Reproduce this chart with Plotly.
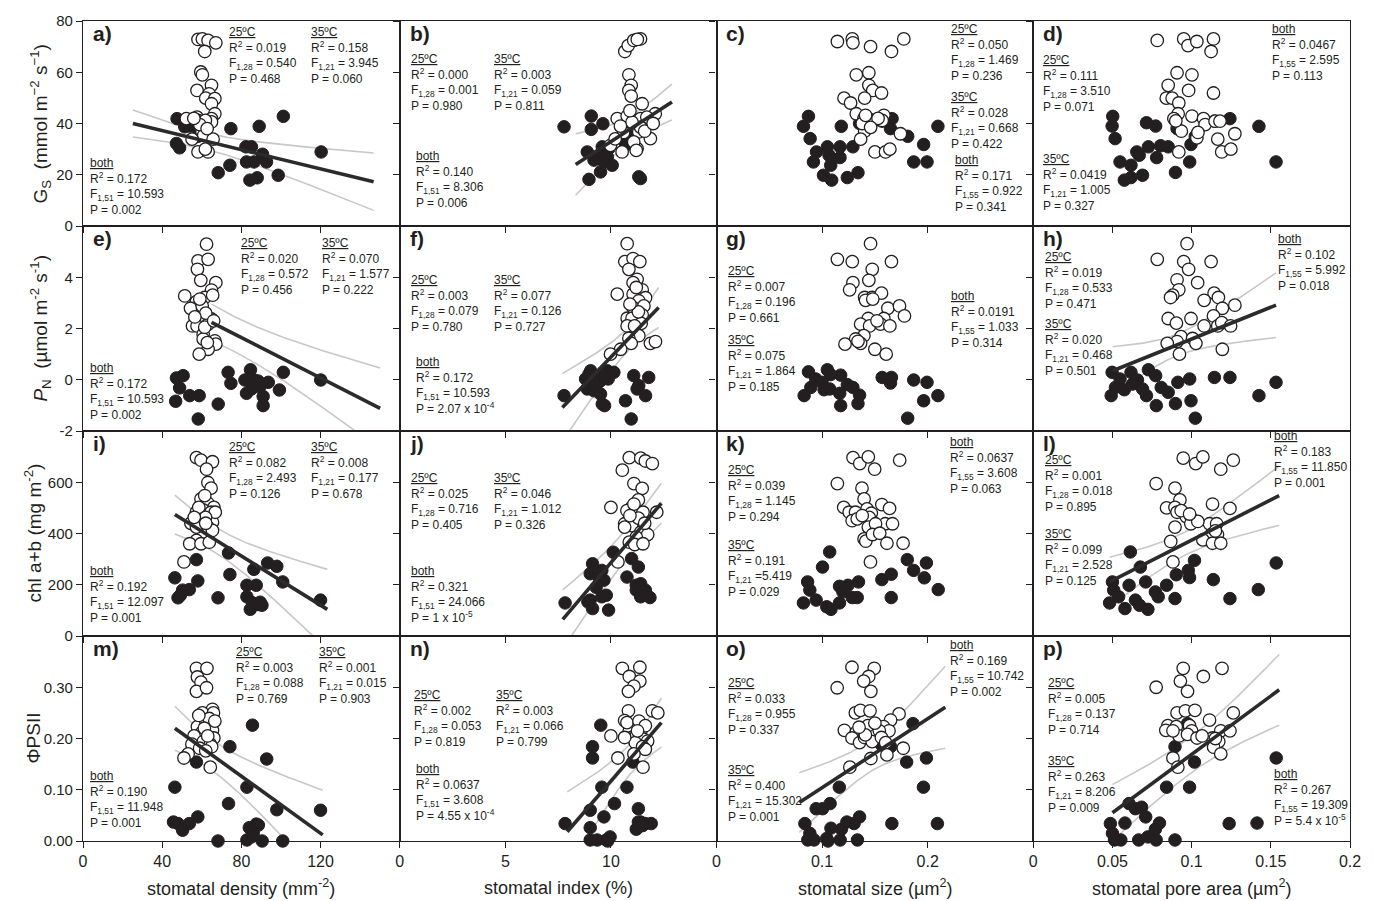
import numpy as np
import plotly.graph_objects as go
from plotly.subplots import make_subplots

INK = "#231f20"
BAND = "#c8c8c8"
FONT = "Liberation Sans, Arial, sans-serif"

# ---------------- axis setup ----------------
x_ranges = [[0, 160], [0, 15], [0, 0.3], [0, 0.2]]
x_tickvals = [[0, 40, 80, 120, 160], [0, 5, 10, 15], [0, 0.1, 0.2, 0.3], [0, 0.05, 0.1, 0.15, 0.2]]
x_ticktext = [["0", "40", "80", "120", ""], ["0", "5", "10", ""], ["0", "0.1", "0.2", ""],
              ["0", "0.05", "0.1", "0.15", "0.2"]]
x_titles = ["stomatal density (mm<sup>-2</sup>)", "stomatal index (%)",
            "stomatal size (µm<sup>2</sup>)", "stomatal pore area (µm<sup>2</sup>)"]

y_ranges = [[0, 80], [-2, 6], [0, 800], [0, 0.4]]
y_tickvals = [[0, 20, 40, 60, 80], [-2, 0, 2, 4, 6], [0, 200, 400, 600, 800], [0, 0.1, 0.2, 0.3, 0.4]]
y_ticktext = [["0", "20", "40", "60", "80"], ["-2", "0", "2", "4", ""], ["0", "200", "400", "600", ""],
              ["0.00", "0.10", "0.20", "0.30", ""]]
y_titles = ["G<sub>S</sub>  (mmol m<sup>−2</sup> s<sup>−1</sup>)",
            "<i>P</i><sub>N</sub>  (µmol m<sup>-2</sup> s<sup>-1</sup>)",
            "chl a+b (mg m<sup>-2</sup>)", "ΦPSII"]
y_title_x = [40, 40, 32, 33]

# ---------------- measurements: (x, y) per panel ----------------
a_25 = [(58.1,72.8),(60.3,73.0),(63.2,72.4),(67.1,71.5),(61.5,68.1),(59.5,60.1),(60.3,59.0),(64.9,54.9),
        (57.6,52.9),(63.7,51.6),(62.0,49.9),(66.6,49.7),(64.9,47.7),(66.6,43.8),(64.9,41.9),(64.9,40.6),
        (52.2,41.9),(57.6,42.5),(58.1,41.2),(61.8,41.2),(60.1,36.7),(61.0,35.4),(55.1,33.9),(65.7,33.9),
        (58.1,28.9),(63.2,28.9),(61.8,30.0),(59.0,39.6),(62.7,38.0),(56.0,42.0)]
a_35 = [(47.5,41.9),(51.4,38.7),(53.9,39.0),(55.6,39.0),(58.5,39.9),(58.1,35.0),(47.2,32.2),(48.8,30.5),
        (68.3,20.8),(74.2,23.7),(74.7,38.0),(82.3,30.9),(85.1,30.9),(82.6,25.0),(86.4,25.0),(89.0,38.9),
        (90.7,28.0),(92.7,25.0),(84.3,17.9),(88.0,18.8),(98.6,19.8),(101.2,42.8),(120.3,28.9)]

b_25 = [(10.66,68.1),(10.82,70.4),(11.08,72.4),(11.40,73.0),(11.25,72.8),(10.85,59.0),(10.96,54.9),
        (10.85,52.9),(10.96,50.7),(11.48,47.7),(12.10,43.8),(10.30,41.9),(10.77,42.9),(11.40,41.9),
        (11.70,42.5),(11.32,36.7),(11.87,34.1),(10.53,28.9),(11.24,30.2),(11.08,32.8),(11.40,38.6),
        (9.98,31.5),(10.60,36.5),(11.00,40.5),(11.60,37.0),(10.20,34.0),(11.20,29.5),(10.90,45.0),
        (12.00,40.0),(10.45,39.0)]
b_35 = [(7.78,38.7),(9.07,42.9),(9.07,37.7),(9.62,39.9),(8.88,28.9),(9.20,25.7),(9.59,30.9),(9.90,30.2),
        (9.43,26.9),(9.67,25.0),(10.06,23.7),(9.51,21.1),(8.96,18.2),(10.77,33.1),(10.93,35.4),(11.16,39.3),
        (11.56,39.3),(11.79,41.2),(11.32,19.2),(11.40,18.5),(11.08,38.0),(10.70,31.5),(9.83,27.0)]

c_25 = [(0.1145,72.0),(0.1286,73.0),(0.1292,71.5),(0.1459,70.0),(0.1657,68.1),(0.1774,73.0),(0.1324,59.0),
        (0.1443,59.8),(0.1443,54.9),(0.1480,52.9),(0.1563,51.9),(0.1208,49.9),(0.1270,48.0),(0.1403,49.9),
        (0.1324,43.8),(0.1396,41.9),(0.1450,41.6),(0.1475,40.6),(0.1585,43.2),(0.1403,37.0),(0.1365,33.9),
        (0.1742,36.0),(0.1500,28.9),(0.1601,28.9),(0.1642,30.0),(0.1569,41.2),(0.1380,40.0),(0.1412,43.2),
        (0.1530,42.0),(0.1460,38.5)]
c_35 = [(0.0871,42.8),(0.0824,38.9),(0.0887,34.1),(0.0947,28.9),(0.0918,25.0),(0.1050,30.9),(0.1066,27.6),
        (0.1082,23.7),(0.1170,30.9),(0.1170,26.7),(0.1182,38.9),(0.1292,30.9),(0.1355,40.0),(0.1013,19.8),
        (0.1091,17.9),(0.1239,18.9),(0.1340,20.8),(0.1569,40.9),(0.1663,41.9),(0.1648,38.0),(0.1811,35.0),
        (0.1962,31.8),(0.1868,25.0),(0.1994,25.0),(0.2097,38.9)]

d_25 = [(0.0783,72.4),(0.0950,73.0),(0.0977,70.4),(0.1033,72.0),(0.1138,73.0),(0.1123,68.1),(0.0908,59.8),
        (0.1002,59.0),(0.0852,54.9),(0.0981,52.9),(0.1138,51.9),(0.0840,49.9),(0.0877,49.9),(0.0919,48.0),
        (0.0915,43.8),(0.0888,41.9),(0.1002,42.9),(0.1075,41.9),(0.1085,39.6),(0.1148,40.9),(0.1179,40.9),
        (0.0935,37.0),(0.1033,34.4),(0.1165,33.9),(0.1273,36.0),(0.1190,28.9),(0.1248,30.0),(0.0919,28.9),
        (0.0900,41.0),(0.1040,36.5)]
d_35 = [(0.0502,42.8),(0.0498,39.0),(0.0517,34.1),(0.0715,40.3),(0.0773,39.0),(0.0548,25.0),(0.0617,23.7),
        (0.0654,28.9),(0.0669,27.6),(0.0727,30.9),(0.0804,31.3),(0.0852,30.9),(0.0779,26.7),(0.0575,17.9),
        (0.0617,18.9),(0.0690,19.8),(0.0898,20.9),(0.0908,38.0),(0.0988,25.0),(0.0996,31.8),(0.1023,35.0),
        (0.1144,40.9),(0.1242,41.9),(0.1425,38.9),(0.1533,25.0)]

e_25 = [(62.4,5.29),(58.1,4.64),(63.2,4.70),(57.8,4.31),(59.5,3.88),(67.1,3.79),(64.9,3.50),(51.4,3.27),
        (57.3,3.05),(61.5,3.21),(54.3,2.79),(60.2,2.88),(58.7,2.40),(64.9,2.37),(55.3,2.10),(57.6,2.10),
        (63.2,2.17),(60.7,1.78),(60.7,1.59),(66.6,1.52),(67.1,1.39),(63.2,1.19),(58.7,1.00),(62.0,2.60),
        (65.5,3.30),(59.0,3.15),(61.5,2.05),(56.5,2.45),(66.0,2.30),(62.8,1.45)]
e_35 = [(47.2,0.07),(50.6,0.16),(48.8,-0.32),(46.8,-0.84),(53.9,-0.62),(58.7,-0.62),(58.2,-1.53),(68.3,-0.95),
        (73.3,0.29),(74.7,-0.14),(84.6,0.39),(81.8,-0.01),(86.4,-0.01),(82.6,-0.53),(85.1,-0.36),(89.3,-0.27),
        (91.0,-0.65),(91.0,-1.01),(93.6,-0.10),(99.2,-0.40),(101.2,0.29),(120.1,-0.01),(88.5,-0.05)]

f_25 = [(10.77,5.31),(10.66,4.61),(11.05,4.73),(11.37,4.61),(10.85,4.31),(11.24,3.92),(11.05,3.79),
        (11.48,3.51),(10.30,3.34),(11.05,3.34),(11.64,3.20),(11.32,3.08),(11.04,2.82),(11.56,2.88),
        (11.48,2.53),(10.77,2.40),(11.00,2.40),(11.43,2.20),(10.77,2.10),(11.12,2.10),(11.32,1.72),
        (10.85,1.62),(10.96,1.42),(11.87,1.42),(12.11,1.49),(10.46,1.19),(9.98,1.00),(11.20,3.60),
        (11.30,2.65),(10.90,2.95)]
f_35 = [(9.04,0.35),(9.83,0.35),(10.14,0.29),(8.80,0.03),(9.20,0.03),(9.51,-0.04),(9.87,0.03),(8.88,-0.36),
        (7.78,-0.62),(9.51,-0.56),(9.59,-0.95),(9.70,-1.01),(10.69,-0.82),(10.96,-1.53),(11.08,0.16),
        (11.79,0.09),(11.32,-0.23),(11.24,-0.36),(11.64,-0.62),(9.20,-0.43),(8.96,0.22),(9.60,0.20),(9.35,-0.15)]

g_25 = [(0.1459,5.31),(0.1145,4.70),(0.1286,4.61),(0.1657,4.61),(0.1475,4.31),(0.1443,3.88),(0.1292,3.79),
        (0.1261,3.51),(0.1403,3.21),(0.1475,3.21),(0.1563,3.38),(0.1412,3.10),(0.1623,2.79),(0.1733,2.88),
        (0.1780,2.49),(0.1437,2.39),(0.1585,2.39),(0.1365,2.17),(0.1450,2.10),(0.1553,2.17),(0.1642,2.10),
        (0.1396,1.72),(0.1318,1.59),(0.1365,1.42),(0.1217,1.39),(0.1500,1.19),(0.1607,1.00),(0.1340,1.50),
        (0.1520,2.30),(0.1480,3.15)]
g_35 = [(0.0871,0.31),(0.1050,0.39),(0.0940,0.03),(0.0893,-0.30),(0.0830,-0.62),(0.1019,-0.39),(0.1072,-0.36),
        (0.1176,0.18),(0.1239,-0.19),(0.1292,-0.30),(0.1167,-0.53),(0.1355,-0.60),(0.1340,-0.93),(0.1176,-1.01),
        (0.1569,0.09),(0.1657,0.09),(0.1648,-0.13),(0.1868,-0.01),(0.1994,-0.10),(0.2097,-0.62),(0.1962,-0.82),
        (0.1811,-1.50),(0.1080,0.20),(0.1000,-0.10)]

h_25 = [(0.0971,5.31),(0.0783,4.70),(0.0950,4.61),(0.0981,4.31),(0.1123,4.61),(0.0908,3.90),(0.1038,3.79),
        (0.0919,3.51),(0.0881,3.30),(0.0867,3.21),(0.1142,3.38),(0.1169,3.21),(0.1079,3.10),(0.1194,2.79),
        (0.1273,2.91),(0.1138,2.49),(0.0852,2.39),(0.0904,2.21),(0.0996,2.39),(0.1079,2.10),(0.1165,2.10),
        (0.1190,2.23),(0.1246,2.10),(0.0933,1.68),(0.0908,1.49),(0.0846,1.42),(0.1006,1.61),(0.1027,1.42),
        (0.1194,1.19),(0.0923,1.00)]
h_35 = [(0.0498,0.29),(0.0548,0.03),(0.0617,0.29),(0.0519,-0.30),(0.0492,-0.62),(0.0575,-0.39),(0.0627,-0.17),
        (0.0658,-0.01),(0.0690,-0.36),(0.0715,-0.62),(0.0727,0.39),(0.0773,0.16),(0.0808,-0.30),(0.0852,-0.49),
        (0.0777,-1.01),(0.0898,-0.93),(0.0913,-0.10),(0.0988,0.03),(0.0996,-0.82),(0.1023,-1.50),(0.1144,0.09),
        (0.1242,0.09),(0.1425,-0.62),(0.1533,-0.10)]

i_25 = [(57.3,696),(59.6,686),(65.4,680),(62.4,651),(63.1,599),(64.7,577),(59.6,535),(63.1,518),(66.1,502),
        (57.3,483),(60.7,492),(64.7,483),(54.5,440),(59.6,463),(65.4,444),(66.8,483),(60.7,399),(57.3,373),
        (53.9,360),(59.6,360),(51.0,289),(57.3,425),(63.1,425),(58.5,502),(61.9,463),(65.4,412),(56.2,463),
        (63.8,366),(61.5,548),(62.0,440)]
i_35 = [(46.4,227),(48.0,149),(50.3,179),(53.7,181),(57.3,298),(58.0,215),(68.2,149),(73.5,324),(74.2,240),
        (82.8,198),(82.8,153),(84.5,104),(86.3,260),(87.5,198),(88.6,123),(90.4,120),(93.3,285),(97.9,272),
        (100.9,211),(120.0,140),(49.2,159),(85.5,130),(89.5,132)]

j_25 = [(10.87,696),(11.41,694),(11.63,683),(11.96,673),(10.54,647),(11.09,595),(11.48,576),(11.30,531),
        (10.98,502),(10.00,502),(10.76,489),(11.09,479),(11.52,483),(12.17,483),(10.87,457),(11.20,444),
        (10.65,438),(10.98,431),(11.41,405),(11.74,396),(11.20,386),(10.87,366),(11.13,357),(11.52,360),
        (10.33,289),(10.65,425),(11.09,515),(11.30,460),(10.90,470),(11.60,440)]
j_35 = [(7.83,129),(8.91,133),(9.13,282),(9.02,243),(9.46,224),(9.57,256),(9.67,218),(10.11,327),(9.02,140),
        (9.13,107),(9.57,153),(9.78,159),(9.89,101),(10.76,230),(10.98,302),(11.30,269),(11.20,198),
        (11.41,204),(11.20,179),(11.63,179),(11.41,153),(11.85,150),(9.30,190)]

k_25 = [(0.1293,696),(0.1357,673),(0.1438,699),(0.1498,651),(0.1735,686),(0.1145,595),(0.1378,577),
        (0.1398,535),(0.1205,502),(0.1257,483),(0.1317,483),(0.1426,496),(0.1466,479),(0.1566,513),
        (0.1639,498),(0.1285,450),(0.1333,457),(0.1446,463),(0.1598,438),(0.1667,438),(0.1438,425),
        (0.1506,438),(0.1398,379),(0.1414,370),(0.1478,396),(0.1546,401),(0.1614,362),(0.1767,362),
        (0.1458,289),(0.1380,470)]
k_35 = [(0.1072,328),(0.1004,269),(0.0863,211),(0.0884,179),(0.0944,140),(0.0823,129),(0.1044,114),
        (0.1084,104),(0.1165,129),(0.1165,194),(0.1197,172),(0.1245,198),(0.1285,150),(0.1333,150),
        (0.1345,211),(0.1566,220),(0.1655,241),(0.1807,298),(0.1867,256),(0.1988,285),(0.1968,227),
        (0.2100,181),(0.1655,150)]

l_25 = [(0.0947,694),(0.1026,673),(0.1071,699),(0.1184,651),(0.1263,686),(0.0776,595),(0.0895,577),
        (0.0926,531),(0.0842,500),(0.0895,502),(0.0908,483),(0.0966,466),(0.1000,457),(0.1132,515),
        (0.1242,498),(0.0895,425),(0.0995,438),(0.1113,438),(0.1158,438),(0.1163,396),(0.1124,396),
        (0.0868,369),(0.1071,375),(0.1132,362),(0.1184,362),(0.0882,289),(0.1039,447),(0.0934,489),
        (0.0987,476),(0.1150,410)]
l_35 = [(0.0613,328),(0.0676,269),(0.0500,211),(0.0605,198),(0.0508,179),(0.0539,153),(0.0482,129),
        (0.0579,107),(0.0645,140),(0.0671,120),(0.0724,104),(0.0710,211),(0.0771,172),(0.0789,153),
        (0.0842,198),(0.0895,146),(0.0903,239),(0.0979,256),(0.0987,228),(0.1018,295),(0.1137,220),
        (0.1242,146),(0.1421,181),(0.1534,285)]

m_25 = [(57.3,0.337),(62.6,0.337),(57.8,0.320),(59.6,0.310),(57.3,0.292),(62.4,0.299),(65.4,0.257),
        (60.3,0.250),(65.9,0.250),(57.8,0.223),(61.9,0.236),(64.7,0.225),(65.4,0.216),(60.1,0.212),
        (56.1,0.205),(66.1,0.201),(55.0,0.189),(60.8,0.194),(64.3,0.189),(58.9,0.181),(65.0,0.184),
        (53.1,0.170),(51.0,0.162),(64.3,0.144),(63.8,0.239),(61.3,0.220),(66.6,0.234),(62.0,0.176),
        (58.5,0.245),(63.0,0.205)]
m_35 = [(46.4,0.105),(48.0,0.034),(50.3,0.021),(53.7,0.034),(58.0,0.047),(57.3,0.154),(68.2,0.000),
        (73.5,0.073),(74.2,0.184),(82.8,0.105),(85.6,0.226),(92.8,0.160),(84.0,0.026),(87.5,0.033),
        (88.6,0.031),(82.8,0.002),(85.1,0.008),(90.5,0.000),(97.9,0.061),(100.9,0.000),(120.0,0.060),
        (45.7,0.037),(86.0,0.015)]

n_25 = [(10.54,0.337),(11.37,0.339),(10.87,0.321),(11.37,0.312),(11.09,0.302),(10.83,0.292),(10.83,0.254),
        (11.96,0.254),(12.22,0.250),(10.65,0.235),(11.30,0.225),(10.98,0.221),(10.87,0.215),(11.41,0.212),
        (10.00,0.205),(10.98,0.202),(11.20,0.205),(11.52,0.199),(11.74,0.195),(11.15,0.192),(11.50,0.184),
        (11.63,0.179),(11.09,0.170),(10.33,0.162),(11.52,0.144),(10.76,0.231),(11.33,0.234),(11.63,0.225),
        (11.26,0.215),(10.65,0.202)]
n_35 = [(7.83,0.034),(9.02,0.060),(9.13,0.184),(9.13,0.162),(9.52,0.226),(9.57,0.105),(9.02,0.026),
        (9.02,0.002),(9.35,0.002),(9.67,0.047),(9.78,0.002),(9.96,0.008),(10.17,0.073),(10.76,0.105),
        (11.04,0.154),(11.30,0.063),(11.20,0.023),(11.30,0.037),(11.41,0.037),(11.63,0.034),(11.91,0.034),
        (9.85,0.000),(11.50,0.030)]

o_25 = [(0.1283,0.339),(0.1494,0.337),(0.1442,0.321),(0.1394,0.312),(0.1462,0.292),(0.1143,0.299),
        (0.1315,0.250),(0.1363,0.255),(0.1454,0.254),(0.1729,0.248),(0.1649,0.236),(0.1211,0.216),
        (0.1323,0.212),(0.1434,0.225),(0.1582,0.223),(0.1634,0.215),(0.1542,0.215),(0.1283,0.201),
        (0.1355,0.192),(0.1402,0.202),(0.1474,0.194),(0.1562,0.202),(0.1602,0.192),(0.1769,0.181),
        (0.1614,0.168),(0.1462,0.161),(0.1263,0.144),(0.1410,0.207),(0.1500,0.230),(0.1350,0.222)]
o_35 = [(0.1861,0.229),(0.1562,0.188),(0.1649,0.184),(0.1801,0.154),(0.1988,0.162),(0.1163,0.105),
        (0.1960,0.105),(0.0944,0.063),(0.1004,0.063),(0.1076,0.073),(0.0837,0.034),(0.0884,0.015),
        (0.0865,0.002),(0.0924,0.002),(0.1044,0.005),(0.1084,0.025),(0.1056,0.000),(0.1171,0.002),
        (0.1183,0.023),(0.1235,0.037),(0.1303,0.034),(0.1355,0.047),(0.1335,0.002),(0.1661,0.034),
        (0.2092,0.034)]

p_25 = [(0.0947,0.337),(0.1192,0.337),(0.0929,0.312),(0.1074,0.321),(0.0776,0.300),(0.0974,0.292),
        (0.0908,0.250),(0.0961,0.254),(0.1021,0.255),(0.1263,0.250),(0.1113,0.236),(0.0850,0.225),
        (0.0837,0.216),(0.0903,0.223),(0.0987,0.225),(0.1000,0.215),(0.0921,0.205),(0.0974,0.208),
        (0.1034,0.201),(0.1132,0.201),(0.1184,0.215),(0.1242,0.215),(0.1171,0.194),(0.1139,0.183),
        (0.1184,0.170),(0.0882,0.162),(0.0913,0.144),(0.1066,0.205),(0.0882,0.215),(0.1150,0.200)]
p_35 = [(0.0974,0.229),(0.0895,0.184),(0.1139,0.184),(0.1018,0.154),(0.0842,0.105),(0.0987,0.105),
        (0.0605,0.073),(0.0645,0.063),(0.0684,0.066),(0.0710,0.047),(0.0797,0.035),(0.0579,0.035),
        (0.0487,0.034),(0.0500,0.015),(0.0513,0.002),(0.0553,0.002),(0.0666,0.002),(0.0724,0.008),
        (0.0771,0.023),(0.0776,0.002),(0.0895,0.002),(0.1237,0.034),(0.1413,0.035),(0.1534,0.162)]

# pooled ("both") regression lines: end points
fits = {
    "a": [(25.2, 40.0), (146.8, 17.3)],
    "b": [(8.33, 24.0), (12.89, 48.4)],
    "e": [(64.9, 2.24), (150.1, -1.12)],
    "f": [(7.7, -1.08), (12.26, 2.82)],
    "h": [(0.0502, 0.35), (0.1533, 2.91)],
    "i": [(46.4, 474), (123.4, 104)],
    "j": [(7.72, 65), (12.39, 518)],
    "l": [(0.0482, 211), (0.1553, 548)],
    "m": [(46.4, 0.220), (121.1, 0.012)],
    "n": [(7.93, 0.018), (12.39, 0.231)],
    "o": [(0.0785, 0.075), (0.2167, 0.261)],
    "p": [(0.05, 0.055), (0.1553, 0.295)],
}
# 95% band around each line: (x of narrowest point, half-width there,
#                             half-width at left end, half-width at right end)
bands = {
    "a": (62, 3.2, 5.3, 11.2),
    "b": (11.0, 5.0, 12.0, 7.0),
    "e": (75, 0.68, 0.71, 1.58),
    "f": (10.8, 0.45, 1.32, 0.78),
    "h": (0.09, 0.42, 0.94, 1.26),
    "i": (68, 50, 76, 156),
    "j": (10.6, 60, 115, 78),
    "l": (0.095, 45, 96, 116),
    "m": (65, 0.03, 0.043, 0.087),
    "n": (10.9, 0.03, 0.078, 0.048),
    "o": (0.145, 0.03, 0.058, 0.08),
    "p": (0.1, 0.035, 0.055, 0.069),
}

# statistics text: (R2, df, F, P) for 25ºC, 35ºC and both
stats = {
    "a": [("0.019", "1,28", "= 0.540", "0.468"), ("0.158", "1,21", "= 3.945", "0.060"), ("0.172", "1,51", "= 10.593", "0.002")],
    "b": [("0.000", "1,28", "= 0.001", "0.980"), ("0.003", "1,21", "= 0.059", "0.811"), ("0.140", "1,51", "= 8.306", "0.006")],
    "c": [("0.050", "1,28", "= 1.469", "0.236"), ("0.028", "1,21", "= 0.668", "0.422"), ("0.171", "1,55", "= 0.922", "0.341")],
    "d": [("0.111", "1,28", "= 3.510", "0.071"), ("0.0419", "1,21", "= 1.005", "0.327"), ("0.0467", "1,55", "= 2.595", "0.113")],
    "e": [("0.020", "1,28", "= 0.572", "0.456"), ("0.070", "1,21", "= 1.577", "0.222"), ("0.172", "1,51", "= 10.593", "0.002")],
    "f": [("0.003", "1,28", "= 0.079", "0.780"), ("0.077", "1,21", "= 0.126", "0.727"), ("0.172", "1,51", "= 10.593", "2.07 x 10<sup>-4</sup>")],
    "g": [("0.007", "1,28", "= 0.196", "0.661"), ("0.075", "1,21", "= 1.864", "0.185"), ("0.0191", "1,55", "= 1.033", "0.314")],
    "h": [("0.019", "1,28", "= 0.533", "0.471"), ("0.020", "1,21", "= 0.468", "0.501"), ("0.102", "1,55", "= 5.992", "0.018")],
    "i": [("0.082", "1,28", "= 2.493", "0.126"), ("0.008", "1,21", "= 0.177", "0.678"), ("0.192", "1,51", "= 12.097", "0.001")],
    "j": [("0.025", "1,28", "= 0.716", "0.405"), ("0.046", "1,21", "= 1.012", "0.326"), ("0.321", "1,51", "= 24.066", "1 x 10<sup>-5</sup>")],
    "k": [("0.039", "1,28", "= 1.145", "0.294"), ("0.191", "1,21", "=5.419", "0.029"), ("0.0637", "1,55", "= 3.608", "0.063")],
    "l": [("0.001", "1,28", "= 0.018", "0.895"), ("0.099", "1,21", "= 2.528", "0.125"), ("0.183", "1,55", "= 11.850", "0.001")],
    "m": [("0.003", "1,28", "= 0.088", "0.769"), ("0.001", "1,21", "= 0.015", "0.903"), ("0.190", "1,51", "= 11.948", "0.001")],
    "n": [("0.002", "1,28", "= 0.053", "0.819"), ("0.003", "1,21", "= 0.066", "0.799"), ("0.0637", "1,51", "= 3.608", "4.55 x 10<sup>-4</sup>")],
    "o": [("0.033", "1,28", "= 0.955", "0.337"), ("0.400", "1,21", "= 15.302", "0.001"), ("0.169", "1,55", "= 10.742", "0.002")],
    "p": [("0.005", "1,28", "= 0.137", "0.714"), ("0.263", "1,21", "= 8.206", "0.009"), ("0.267", "1,55", "= 19.309", "5.4 x 10<sup>-5</sup>")],
}
# text block anchors in pixels (left, top) for 25ºC, 35ºC and both
stat_pos = {
    "a": [(229, 25), (312, 25), (90, 157)],
    "b": [(412, 52), (495, 52), (417, 150)],
    "c": [(953, 22), (953, 90), (957, 154)],
    "d": [(1045, 53), (1045, 153), (1275, 22)],
    "e": [(241, 237), (323, 237), (90, 363)],
    "f": [(412, 275), (495, 275), (417, 357)],
    "g": [(730, 265), (730, 335), (953, 291)],
    "h": [(1047, 251), (1047, 319), (1281, 233)],
    "i": [(229, 443), (312, 443), (90, 567)],
    "j": [(412, 474), (495, 474), (412, 567)],
    "k": [(730, 466), (730, 541), (952, 438)],
    "l": [(1047, 456), (1047, 530), (1277, 431)],
    "m": [(236, 649), (320, 649), (90, 774)],
    "n": [(415, 692), (497, 692), (417, 767)],
    "o": [(730, 680), (730, 768), (952, 642)],
    "p": [(1050, 680), (1050, 758), (1277, 772)],
}

panels = {
    "a": (a_25, a_35), "b": (b_25, b_35), "c": (c_25, c_35), "d": (d_25, d_35),
    "e": (e_25, e_35), "f": (f_25, f_35), "g": (g_25, g_35), "h": (h_25, h_35),
    "i": (i_25, i_35), "j": (j_25, j_35), "k": (k_25, k_35), "l": (l_25, l_35),
    "m": (m_25, m_35), "n": (n_25, n_35), "o": (o_25, o_35), "p": (p_25, p_35),
}
letters = "abcdefghijklmnop"

# ---------------- figure ----------------
W, H = 1373, 901
L, R, T, B = 83, 20, 16, 60
PW, PH = W - L - R, H - T - B


def px(xp):
    return (xp - L) / PW


def py(yp):
    return (H - B - yp) / PH


fig = make_subplots(rows=4, cols=4, horizontal_spacing=0, vertical_spacing=0)


def band_curves(fit, band, n=120):
    (x0, y0), (x1, y1) = fit
    xc, w0, wl, wr = band
    xs = np.linspace(x0, x1, n)
    ys = y0 + (y1 - y0) / (x1 - x0) * (xs - x0)
    kl = (wl ** 2 - w0 ** 2) / (x0 - xc) ** 2
    kr = (wr ** 2 - w0 ** 2) / (x1 - xc) ** 2
    k = np.where(xs < xc, kl, kr)
    hw = np.sqrt(w0 ** 2 + k * (xs - xc) ** 2)
    return xs, ys + hw, ys - hw


for idx, key in enumerate(letters):
    r, c = idx // 4 + 1, idx % 4 + 1
    pts25, pts35 = panels[key]
    if key in fits:
        xs, up, lo = band_curves(fits[key], bands[key])
        for yy in (up, lo):
            fig.add_trace(go.Scatter(x=xs, y=yy, mode="lines", line=dict(color=BAND, width=1.6),
                                     hoverinfo="skip", showlegend=False), row=r, col=c)
    fig.add_trace(go.Scatter(x=[p[0] for p in pts35], y=[p[1] for p in pts35], mode="markers",
                             marker=dict(size=12.5, color=INK, line=dict(color=INK, width=1)),
                             cliponaxis=False, showlegend=False, name="35ºC"), row=r, col=c)
    fig.add_trace(go.Scatter(x=[p[0] for p in pts25], y=[p[1] for p in pts25], mode="markers",
                             marker=dict(size=12.5, color="white", line=dict(color=INK, width=1.3)),
                             cliponaxis=False, showlegend=False, name="25ºC"), row=r, col=c)
    if key in fits:
        (x0, y0), (x1, y1) = fits[key]
        fig.add_trace(go.Scatter(x=[x0, x1], y=[y0, y1], mode="lines", line=dict(color="#2b2b2b", width=3.6),
                                 hoverinfo="skip", showlegend=False), row=r, col=c)

    fig.update_xaxes(row=r, col=c, range=x_ranges[c - 1], tickvals=x_tickvals[c - 1],
                     ticktext=x_ticktext[c - 1], showticklabels=(r == 4),
                     ticks="outside", ticklen=6, tickwidth=1, tickcolor=INK,
                     showline=True, mirror=True, linecolor=INK, linewidth=1.3,
                     showgrid=False, zeroline=False, tickfont=dict(size=16, color=INK, family=FONT))
    fig.update_yaxes(row=r, col=c, range=y_ranges[r - 1], tickvals=y_tickvals[r - 1],
                     ticktext=y_ticktext[r - 1], showticklabels=(c == 1),
                     ticks="outside", ticklen=6, tickwidth=1, tickcolor=INK,
                     showline=True, mirror=True, linecolor=INK, linewidth=1.3,
                     showgrid=False, zeroline=False, tickfont=dict(size=15, color=INK, family=FONT))

annotations = []
col_left = [L + PW / 4 * k for k in range(4)]
row_top = [T + PH / 4 * k for k in range(4)]

for idx, key in enumerate(letters):
    r, c = idx // 4, idx % 4
    annotations.append(dict(x=px(col_left[c] + 8), y=py(row_top[r] - 1), xref="paper", yref="paper",
                            text=f"<b>{key})</b>", showarrow=False, xanchor="left", yanchor="top",
                            font=dict(size=21, color=INK, family=FONT)))
    heads = ["25ºC", "35ºC", "both"]
    for (r2, df, fv, pv), head, (lx, ty) in zip(stats[key], heads, stat_pos[key]):
        txt = (f"<u>{head}</u><br>R<sup>2</sup> = {r2}<br>F<sub>{df}</sub> {fv}<br>P = {pv}")
        annotations.append(dict(x=px(lx - 2), y=py(ty - 7), xref="paper", yref="paper", text=txt,
                                showarrow=False, xanchor="left", yanchor="top", align="left",
                                font=dict(size=12, color=INK, family=FONT)))

for c in range(4):
    annotations.append(dict(x=px(col_left[c] + PW / 8), y=py(888), xref="paper", yref="paper",
                            text=x_titles[c], showarrow=False, xanchor="center", yanchor="middle",
                            font=dict(size=18, color=INK, family=FONT)))
for r in range(4):
    annotations.append(dict(x=px(y_title_x[r]), y=py(row_top[r] + PH / 8), xref="paper", yref="paper",
                            text=y_titles[r], showarrow=False, xanchor="center", yanchor="middle",
                            textangle=-90, font=dict(size=19, color=INK, family=FONT)))

fig.update_layout(width=W, height=H, margin=dict(l=L, r=R, t=T, b=B),
                  paper_bgcolor="white", plot_bgcolor="white", showlegend=False,
                  annotations=annotations, font=dict(family=FONT, color=INK))

fig.write_html("out.html")
